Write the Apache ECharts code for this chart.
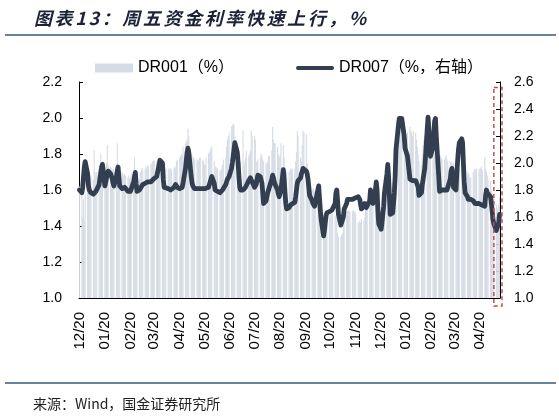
<!DOCTYPE html>
<html>
<head>
<meta charset="utf-8">
<script src="https://cdn.jsdelivr.net/npm/echarts@6/dist/echarts.min.js"></script>
<style>
html,body{margin:0;padding:0;background:#fff;}
#wrap{position:relative;width:559px;height:417px;}
#c{position:absolute;left:0;top:0;width:559px;height:417px;}
#ttl{position:absolute;left:34px;top:4px;font-family:'Noto Sans CJK SC',sans-serif;font-size:18px;font-weight:bold;font-style:italic;letter-spacing:2.6px;color:#1d2336;white-space:nowrap;z-index:2;}
</style>
</head>
<body>
<div id="wrap">
<div id="c"></div>
<div id="ttl">图表13：周五资金利率快速上行，%</div>
</div>
<script>
// Calendar span of the chart (x axis is a day-by-day date axis)
const startDate = '2019-12-20';
const endDate = '2021-05-14';
// Tick labels shown on the x axis (MM/DD, every month on the 20th)
const tickLabels = ['12/20','01/20','02/20','03/20','04/20','05/20','06/20','07/20','08/20','09/20','10/20','11/20','12/20','01/20','02/20','03/20','04/20'];
const seriesNames = ['DR001（%）', 'DR007（%，右轴）'];
const sourceText = '来源：Wind，国金证券研究所';

// DR001 (%), one value per trading day (Mon-Fri), left axis
const dr001 = [
1.62,
1.60,1.45,1.55,1.43,1.58, 1.64,1.66,1.65,1.67,1.68, 1.66,1.82,1.70,1.68,1.70, 1.71,1.72,1.80,1.70,1.72,
1.72,1.73,1.75,1.85,1.74, 1.73,1.72,1.71,1.72,1.70, 1.72,1.86,1.73,1.71,1.70, 1.70,1.69,1.68,1.69,1.68,
1.67,1.68,1.66,1.67,1.69, 1.70,1.78,1.70,1.68,1.66, 1.66,1.70,1.71,1.72,1.72, 1.72,1.73,1.72,1.74,1.73,
1.74,1.75,1.76,1.76,1.77, 1.76,1.77,1.77,1.76,1.78, 1.77,1.76,1.74,1.72,1.72, 1.72,1.71,1.72,1.72,1.71,
1.72,1.73,1.72,1.76,1.77, 1.78,1.79,1.80,1.79,1.84, 1.86,1.87,1.88,1.94,1.90, 1.80,1.79,1.78,1.78,1.77,
1.77,1.77,1.76,1.78,1.78, 1.77,1.76,1.74,1.74,1.78, 1.80,1.81,1.82,1.83,1.84, 1.76,1.73,1.73,1.72,1.72,
1.71,1.71,1.72,1.74,1.77, 1.78,1.84,1.88,1.90,1.92, 1.95,1.96,1.97,1.96,1.90, 1.84,1.80,1.78,1.76,1.75,
1.93,1.76,1.74,1.78,1.82, 1.79,1.80,1.82,1.93,1.90, 1.90,1.88,1.76,1.75,1.77, 1.78,1.80,1.79,1.77,1.76,
1.75,1.74,1.76,1.79,1.79, 1.82,1.95,1.88,1.86,1.86, 1.84,1.80,1.78,1.79,1.86, 1.85,1.78,1.73,1.71,1.70,
1.70,1.71,1.72,1.71,1.72, 1.72,1.76,1.81,1.93,1.90, 1.78,1.76,1.85,1.93,1.92, 1.91,1.75,1.66,1.63,1.62,
1.60,1.61,1.60,1.59,1.60, 1.62,1.64,1.50,1.40,1.38, 1.36,1.38,1.42,1.45,1.46, 1.45,1.46,1.47,1.46,1.47,
1.46,1.45,1.45,1.36,1.34, 1.34,1.35,1.36,1.40,1.47, 1.48,1.48,1.49,1.48,1.48, 1.48,1.49,1.48,1.48,1.47,
1.42,1.42,1.43,1.42,1.44, 1.43,1.45,1.50,1.52,1.52, 1.52,1.53,1.52,1.53,1.52, 1.52,1.51,1.44,1.43,1.44,
1.43,1.44,1.42,1.45,1.50, 1.55,1.62,1.70,1.66,1.60, 1.64,1.70,1.72,1.75,1.80, 1.92,1.97,2.00,1.98,1.95,
1.90,1.86,1.84,1.88,1.92, 1.95,1.93,1.92,1.90,1.93, 1.92,1.88,1.84,1.80,1.76, 1.74,1.80,1.85,1.88,1.90,
1.91,1.92,1.90,1.95,1.90, 1.84,1.82,1.80,1.79,1.80, 1.78,1.77,1.79,1.78,1.77, 1.77,1.78,1.79,1.77,1.76,
1.76,1.75,1.76,1.74,1.75, 1.75,1.74,1.73,1.74,1.72, 1.72,1.71,1.73,1.72,1.70, 1.70,1.69,1.68,1.67,1.67,
1.70,1.71,1.72,1.71,1.72, 1.72,1.71,1.72,1.73,1.71, 1.78,1.72,1.70,1.68,1.66, 1.65,1.60,1.58,1.56,1.55,
1.52,1.50,1.49,1.52,1.56
];

// DR007 (%), one value per trading day (Mon-Fri), right axis
const dr007 = [
1.80,
1.78,1.82,1.90,1.97,2.01, 1.92,1.83,1.80,1.79,1.78, 1.77,1.77,1.78,1.79,1.80, 1.84,1.89,1.93,1.97,1.99,
1.83,1.86,1.89,1.92,1.94, 1.92,1.90,1.88,1.85,1.83, 1.90,1.94,1.97,1.90,1.83, 1.81,1.82,1.82,1.82,1.81,
1.79,1.78,1.78,1.79,1.80, 1.86,1.90,1.93,1.85,1.79, 1.80,1.81,1.82,1.83,1.84, 1.85,1.86,1.86,1.86,1.86,
1.86,1.87,1.87,1.88,1.88, 1.90,1.93,1.96,1.99,2.02, 2.00,1.88,1.82,1.82,1.81, 1.81,1.81,1.80,1.80,1.80,
1.82,1.83,1.84,1.83,1.82, 1.81,1.81,1.82,1.82,1.85, 1.96,2.02,2.08,2.11,2.08, 1.90,1.85,1.83,1.82,1.81,
1.81,1.81,1.81,1.81,1.81, 1.81,1.81,1.81,1.81,1.81, 1.82,1.84,1.86,1.88,1.90, 1.85,1.80,1.80,1.79,1.79,
1.78,1.79,1.79,1.80,1.81, 1.84,1.86,1.88,1.89,1.90, 1.96,2.00,2.05,2.10,2.15, 2.08,2.00,1.90,1.82,1.80,
1.80,1.80,1.81,1.82,1.82, 1.87,1.88,1.89,1.90,1.90, 1.82,1.83,1.84,1.88,1.91, 1.90,1.90,1.85,1.78,1.70,
1.72,1.75,1.78,1.80,1.82, 1.88,1.91,1.89,1.86,1.84, 1.80,1.77,1.75,1.74,1.80, 1.95,1.88,1.78,1.70,1.66,
1.67,1.68,1.69,1.69,1.70, 1.71,1.75,1.80,1.85,1.87, 1.89,1.92,1.94,1.96,1.97, 1.94,1.92,1.88,1.82,1.76,
1.72,1.70,1.69,1.68,1.69, 1.80,1.83,1.74,1.65,1.58, 1.46,1.50,1.56,1.61,1.63, 1.64,1.65,1.65,1.65,1.65,
1.70,1.78,1.80,1.72,1.62, 1.54,1.54,1.55,1.60,1.66, 1.70,1.73,1.73,1.73,1.73, 1.73,1.73,1.73,1.74,1.74,
1.75,1.76,1.73,1.69,1.66, 1.68,1.70,1.69,1.67,1.66, 1.72,1.80,1.81,1.74,1.70, 1.80,1.86,1.80,1.65,1.55,
1.51,1.56,1.62,1.68,1.78, 1.92,1.99,1.90,1.75,1.62, 1.63,1.70,1.78,1.90,2.10, 2.28,2.33,2.34,2.34,2.33,
2.20,2.11,2.10,2.11,2.05, 1.88,1.87,1.87,1.87,1.87, 1.87,1.87,1.86,1.82,1.76, 1.78,1.84,1.88,1.92,1.96,
2.25,2.34,2.25,2.15,2.05, 2.12,2.22,2.31,2.33,2.20, 1.90,1.79,1.80,1.80,1.80, 1.80,1.80,1.80,1.80,1.81,
1.88,1.94,1.96,1.90,1.82, 1.80,1.92,2.02,2.10,2.15, 2.18,2.15,2.00,1.86,1.78, 1.75,1.73,1.73,1.73,1.73,
1.72,1.71,1.70,1.70,1.70, 1.70,1.70,1.70,1.69,1.68, 1.68,1.76,1.80,1.78,1.77, 1.75,1.70,1.64,1.58,1.55,
1.50,1.49,1.51,1.56,1.62
];

// Build the calendar-day category axis; weekends carry no value
const pad = n => (n < 10 ? '0' : '') + n;
const days = [], barData = [], lineData = [];
let t = 0;
const end = new Date(endDate + 'T00:00:00Z');
for (let d = new Date(startDate + 'T00:00:00Z'); d <= end; d.setUTCDate(d.getUTCDate() + 1)) {
  days.push(d.getUTCFullYear() + '-' + pad(d.getUTCMonth() + 1) + '-' + pad(d.getUTCDate()));
  const wd = d.getUTCDay();
  if (wd >= 1 && wd <= 5 && t < dr001.length) {
    barData.push(dr001[t]); lineData.push(dr007[t]); t++;
  } else {
    barData.push(null); lineData.push(null);
  }
}
const mmdd = v => v.slice(5, 7) + '/' + v.slice(8, 10);
const isTick = (i, v) => v.slice(8, 10) === '20' && tickLabels.indexOf(mmdd(v)) >= 0;

const latin = "'Liberation Sans', Arial, 'Noto Sans CJK SC', sans-serif";
const chart = echarts.init(document.getElementById('c'), null, {renderer: 'canvas'});
const option = {
  backgroundColor: '#fff',
  animation: false,
  title: [{
    text: sourceText,
    left: 28, top: 392, padding: 5,
    textStyle: {fontFamily: "'Noto Sans CJK SC', sans-serif", fontSize: 14, fontWeight: 'normal', color: '#222'}
  }],
  legend: {
    left: 90, top: 55, padding: 5,
    itemWidth: 38, itemHeight: 9, itemGap: 62,
    textStyle: {fontFamily: latin, fontSize: 16, color: '#000'},
    data: [
      {name: seriesNames[0], icon: 'rect'},
      {name: seriesNames[1], icon: 'path://M2,0 L38,0 A2,2 0 0 1 38,4 L2,4 A2,2 0 0 1 2,0 Z'}
    ]
  },
  grid: {left: 79, right: 59, top: 82, bottom: 119},
  xAxis: {
    type: 'category',
    data: days,
    boundaryGap: true,
    axisLine: {lineStyle: {color: '#000', width: 1}},
    axisTick: {inside: true, length: 4, alignWithLabel: true, interval: isTick, lineStyle: {color: '#000'}},
    axisLabel: {interval: isTick, rotate: 90, margin: 14, fontFamily: latin, fontSize: 15, color: '#000', formatter: v => mmdd(v)},
    splitLine: {show: false}
  },
  yAxis: [{
    type: 'value', min: 1.0, max: 2.2, interval: 0.2,
    axisLine: {show: true, lineStyle: {color: '#000', width: 1}},
    axisTick: {show: true, inside: true, length: 4, lineStyle: {color: '#000'}},
    axisLabel: {margin: 17, fontFamily: latin, fontSize: 14, color: '#000', formatter: v => v.toFixed(1)},
    splitLine: {show: false}
  }, {
    type: 'value', min: 1.0, max: 2.6, interval: 0.2, position: 'right',
    axisLine: {show: true, lineStyle: {color: '#000', width: 1}},
    axisTick: {show: true, inside: true, length: 4, lineStyle: {color: '#000'}},
    axisLabel: {margin: 14, fontFamily: latin, fontSize: 14, color: '#000', formatter: v => v.toFixed(1)},
    splitLine: {show: false}
  }],
  series: [{
    name: seriesNames[0], type: 'bar', yAxisIndex: 0,
    data: barData, barWidth: 1.1, barGap: '-100%',
    itemStyle: {color: '#d6dce5'},
    z: 1
  }, {
    name: seriesNames[1], type: 'line', yAxisIndex: 1,
    data: lineData, connectNulls: true, symbol: 'none',
    lineStyle: {color: '#333f50', width: 4.8, cap: 'round', join: 'round'},
    itemStyle: {color: '#333f50'},
    z: 3
  }]
};
chart.setOption(option);

// Annotation: dashed box around the last trading week, placed from the axes
const n = days.length;
const band = chart.convertToPixel({xAxisIndex: 0}, days[n - 1]) - chart.convertToPixel({xAxisIndex: 0}, days[n - 2]);
const bx0 = chart.convertToPixel({xAxisIndex: 0}, days[n - 8]);
const bx1 = chart.convertToPixel({xAxisIndex: 0}, days[n - 1]) + band / 2 + 2;
const by0 = chart.convertToPixel({yAxisIndex: 1}, 2.56);
const by1 = chart.convertToPixel({yAxisIndex: 1}, 1.0) + 8;
chart.setOption({
  graphic: [
    {type: 'line', shape: {x1: 5, y1: 35, x2: 556, y2: 35}, style: {stroke: '#2f5d7c', lineWidth: 1.5}},
    {type: 'line', shape: {x1: 5, y1: 383, x2: 556, y2: 383}, style: {stroke: '#2f5d7c', lineWidth: 1.5}},
    {type: 'rect', shape: {x: bx0, y: by0, width: bx1 - bx0, height: by1 - by0},
     style: {fill: 'none', stroke: '#c0504d', lineWidth: 1.5, lineDash: [4, 3]}, z: 10}
  ]
});
</script>
</body>
</html>
